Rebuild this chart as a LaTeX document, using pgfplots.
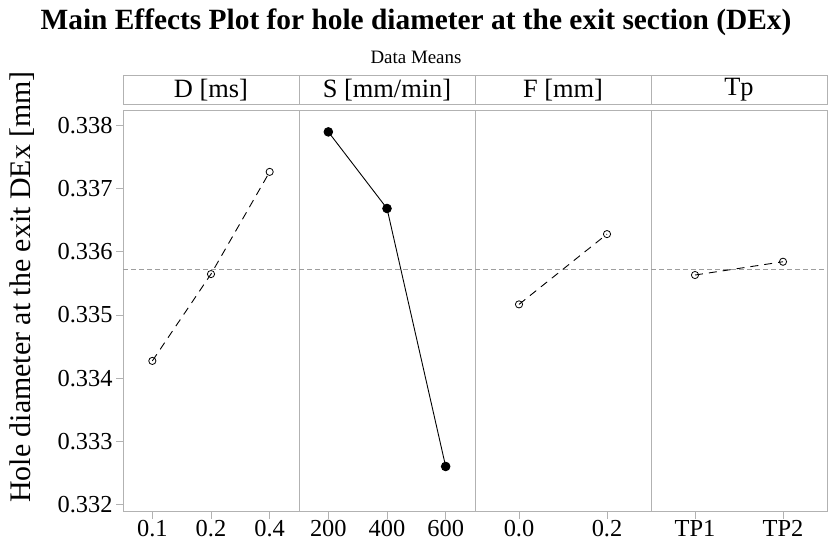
\documentclass[border=0pt]{standalone}
\usepackage{fontspec}
\setmainfont{Liberation Serif}
\usepackage{pgfplots}
\pgfplotsset{compat=1.18}

\definecolor{framegray}{gray}{0.70}
\definecolor{meangray}{gray}{0.62}
\newcommand{\grand}{0.335727}

\pgfplotsset{
  panel/.style={
    scale only axis, width=176bp, height=401bp,
    anchor=south west,
    ymin=0.33189, ymax=0.33823,
    axis line style={framegray, line width=0.9pt},
    every tick/.style={framegray, line width=0.9pt},
    tick align=outside, major tick length=7bp,
    xtick pos=bottom, ytick pos=left,
    ytick=\empty,
    scaled y ticks=false,
    /pgf/number format/assume math mode=true,
    ticklabel style={font=\fontsize{24.5}{24.5}\selectfont, text=black},
    xticklabel style={inner sep=1.5bp, yshift=0bp},
    title style={draw=framegray, line width=0.9pt, minimum width=176bp,
      minimum height=28.7bp, inner sep=0pt, at={(0.5,1)}, anchor=south,
      yshift=0pt, font=\fontsize{26.5}{26.5}\selectfont},
    clip=false,
  },
  dashline/.style={black, line width=0.9pt, dash pattern=on 8bp off 6bp,
    mark=o, mark size=3.6bp, mark options={solid, fill=white, line width=0.8pt}},
  solidline/.style={black, line width=0.9pt, mark=*, mark size=4.3bp,
    mark options={solid, fill=black}},
  meanline/.style={meangray, line width=0.8pt, dash pattern=on 5bp off 3bp},
}

\begin{document}
\begin{tikzpicture}
\useasboundingbox (0,0) rectangle (830bp,-543bp);

\node[font=\fontsize{29.5}{29.5}\selectfont\bfseries] at (416bp,-22bp)
  {Main Effects Plot for hole diameter at the exit section (DEx)};
\node[font=\fontsize{19}{19}\selectfont] at (416bp,-57bp) {Data Means};
\node[rotate=90, font=\fontsize{30}{30}\selectfont] at (22bp,-287bp)
  {Hole diameter at the exit DEx [mm]};

% D
\begin{axis}[panel, at={(123bp,-511.7bp)}, title={D [ms]},
  xmin=-0.5, xmax=2.5, xtick={0,1,2}, xticklabels={0.1,0.2,0.4},
  ytick={0.332,0.333,0.334,0.335,0.336,0.337,0.338},
  yticklabel style={/pgf/number format/fixed, /pgf/number format/precision=3,
    /pgf/number format/fixed zerofill}]
\addplot[meanline] coordinates {(-0.5,\grand) (2.5,\grand)};
\addplot[dashline] coordinates {(0,0.334274) (1,0.335647) (2,0.337263)};
\end{axis}

% S
\begin{axis}[panel, at={(299bp,-511.7bp)}, title={S [mm/min]},
  xmin=-0.5, xmax=2.5, xtick={0,1,2}, xticklabels={200,400,600}]
\addplot[meanline] coordinates {(-0.5,\grand) (2.5,\grand)};
\addplot[solidline] coordinates {(0,0.337895) (1,0.336684) (2,0.332605)};
\end{axis}

% F
\begin{axis}[panel, at={(475bp,-511.7bp)}, title={F [mm]},
  xmin=-0.5, xmax=1.5, xtick={0,1}, xticklabels={0.0,0.2}]
\addplot[meanline] coordinates {(-0.5,\grand) (1.5,\grand)};
\addplot[dashline] coordinates {(0,0.335168) (1,0.336279)};
\end{axis}

% Tp
\begin{axis}[panel, at={(651bp,-511.7bp)}, title={Tp},
  xmin=-0.5, xmax=1.5, xtick={0,1}, xticklabels={TP1,TP2}]
\addplot[meanline] coordinates {(-0.5,\grand) (1.5,\grand)};
\addplot[dashline] coordinates {(0,0.335632) (1,0.335842)};
\end{axis}
\end{tikzpicture}
\end{document}
